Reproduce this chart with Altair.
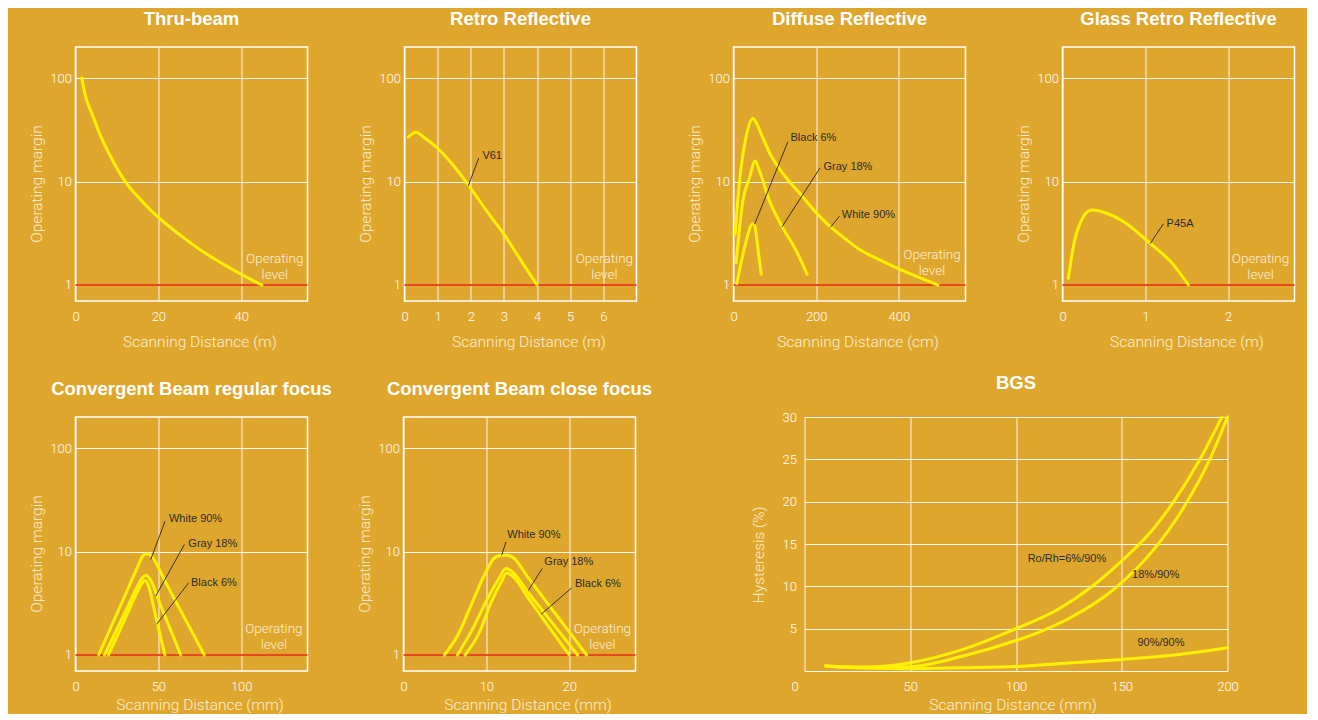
import altair as alt
import pandas as pd

# ---------------- data ----------------
THRU_X = [1.5, 2.5, 4, 6, 8, 12, 16, 20, 25, 30, 35, 40, 45]
THRU_Y = [100, 65, 45, 28, 19, 10, 6.5, 4.5, 3.1, 2.2, 1.65, 1.27, 1.0]

RETRO_X = [0.12, 0.35, 0.6, 1.0, 1.5, 2.0, 2.5, 3.0, 3.5, 4.0]
RETRO_Y = [27, 30, 26.5, 21, 14, 8.6, 5.1, 3.1, 1.75, 1.0]

DIF_WHITE_X = [4, 14.5, 30, 47, 55, 70, 90, 110, 135, 165, 200, 236, 270, 305, 350, 400, 450, 494]
DIF_WHITE_Y = [3.1, 10, 26.5, 40.8, 37, 27, 18, 13.5, 10, 7.3, 5.0, 3.6, 2.8, 2.2, 1.78, 1.43, 1.18, 1.0]
DIF_GRAY_X = [6.4, 22.6, 38.7, 52.4, 63, 87, 117, 152, 178]
DIF_GRAY_Y = [1.64, 6.5, 10.9, 15.8, 12.6, 6.5, 3.7, 2.13, 1.27]
DIF_BLACK_X = [8, 26.6, 46.8, 51, 58.8, 67]
DIF_BLACK_Y = [1.03, 2.29, 3.91, 3.8, 2.29, 1.27]

GLASS_X = [0.07, 0.145, 0.245, 0.3, 0.365, 0.42, 0.5, 0.73, 1.05, 1.33, 1.52]
GLASS_Y = [1.16, 2.66, 4.47, 5.1, 5.3, 5.25, 5.05, 4.14, 2.56, 1.6, 1.0]

CR_WHITE_X = [14, 22, 30, 37, 41, 43.5, 46, 54, 62, 70, 77.7]
CR_WHITE_Y = [1.0, 1.95, 3.8, 6.8, 9.2, 9.5, 9.0, 5.17, 2.97, 1.71, 1.0]
CR_GRAY_X = [17.5, 24, 31, 37, 40.5, 42.5, 45, 51, 57, 63.5]
CR_GRAY_Y = [1.0, 1.65, 2.83, 4.5, 5.6, 5.9, 5.4, 3.12, 1.81, 1.0]
CR_BLACK_X = [19.9, 26, 32, 37, 40.3, 42, 44, 48, 51, 54]
CR_BLACK_Y = [1.0, 1.63, 2.65, 3.98, 5.0, 5.26, 4.7, 2.53, 1.58, 1.0]

CC_WHITE_X = [4.94, 6.6, 8.2, 9.8, 11.0, 11.8, 12.5, 13.2, 15, 17, 19, 21, 22.1]
CC_WHITE_Y = [1.0, 1.58, 3.08, 6.0, 8.7, 9.2, 9.2, 8.8, 5.66, 3.47, 2.13, 1.31, 1.0]
CC_GRAY_X = [6.5, 8.2, 10.2, 11.45, 12.37, 13.05, 15, 17, 19, 21]
CC_GRAY_Y = [1.0, 1.7, 3.57, 5.37, 6.86, 6.46, 4.08, 2.55, 1.6, 1.0]
CC_BLACK_X = [7.43, 9.04, 10.64, 11.85, 12.45, 13.05, 15, 17, 19, 20]
CC_BLACK_Y = [1.0, 1.58, 3.32, 5.17, 6.2, 5.9, 3.6, 2.15, 1.29, 1.0]

BGS_A_X = [10, 20, 30, 50, 75, 100, 120, 135, 150, 165, 174, 187, 197.3]
BGS_A_Y = [0.6, 0.5, 0.47, 0.98, 2.56, 5.0, 7.3, 9.8, 13.0, 16.8, 19.8, 25, 30]
BGS_B_X = [10, 20, 30, 50, 75, 100, 111, 125, 146, 165, 180, 192, 200]
BGS_B_Y = [0.62, 0.42, 0.38, 0.5, 1.77, 3.6, 4.6, 6.2, 9.6, 14.3, 19.6, 25.2, 30]
BGS_C_X = [10, 20, 30, 50, 75, 100, 125, 150, 175, 200]
BGS_C_Y = [0.6, 0.45, 0.35, 0.28, 0.38, 0.52, 0.95, 1.37, 1.9, 2.75]

# annotation labels (data coordinates)
RETRO_NOTE = (["V61"], [2.35], [17.5])
RETRO_LEAD = ([2.24], [16.9], [1.92], [9.0])
DIF_NOTE = (["Black 6%", "Gray 18%", "White 90%"], [137.8, 217.6, 262], [26.4, 13.8, 4.8])
DIF_LEAD = ([131.4, 209.6, 256.3], [24.2, 13.6, 4.63], [50.8, 116.9, 233.8], [3.86, 3.63, 3.6])
GLASS_NOTE = (["P45A"], [1.256], [3.9])
GLASS_LEAD = ([1.217], [3.9], [1.057], [2.5])
CR_NOTE = (["White 90%", "Gray 18%", "Black 6%"], [56.4, 68.1, 69.7], [20.7, 11.9, 4.99])
CR_LEAD = ([54.0, 65.7, 68.3], [19.6, 11.7, 4.99], [45.4, 48.4, 49.0], [8.37, 3.71, 1.98])
CC_NOTE = (["White 90%", "Gray 18%", "Black 6%"], [12.53, 17.0, 20.7], [14.6, 7.9, 4.88])
CC_LEAD = ([12.37, 16.75, 20.3], [12.4, 6.86, 4.46], [11.85, 15.06, 16.6], [9.2, 4.2, 2.47])
BGS_NOTE = (["Ro/Rh=6%/90%", "18%/90%", "90%/90%"], [105.5, 154.9, 157.4], [13.25, 11.3, 3.26])

OP_TEXT = ["Operating", "level"]
OP_Y = [1.77, 1.25]
OP_Y_DIF = [1.95, 1.38]

# ---------------- style ----------------
BG = "#DFA62E"
YEL = "#FFF200"
RED = "#E8481E"
FONT_B = "Liberation Sans"
FONT_L = "Roboto"
CREAM = "#FBF0D6"
W = 232
H = 254


def curves_df(series):
    rows = []
    for name, xs, ys in series:
        for a, b in zip(xs, ys):
            rows.append({"x": a, "y": b, "s": name})
    return pd.DataFrame(rows)


def note_layers(X, Y, note, lead):
    out = []
    if lead is not None:
        ldf = pd.DataFrame({"x": lead[0], "y": lead[1], "x2": lead[2], "y2": lead[3]})
        out.append(alt.Chart(ldf).mark_rule(color="#222222", strokeWidth=0.9).encode(
            x=X, y=Y, x2="x2:Q", y2="y2:Q"))
    if note is not None:
        ndf = pd.DataFrame({"t": note[0], "x": note[1], "y": note[2]})
        out.append(alt.Chart(ndf).mark_text(align="left", baseline="middle", font=FONT_B,
                                            fontSize=11, color="#2A2A2A").encode(
            x=X, y=Y, text="t:N"))
    return out


def log_panel(title, xdom, xvals, xtitle, series, note=None, lead=None, opx=None,
              opy=OP_Y, xty=40):
    X = alt.X("x:Q", scale=alt.Scale(domain=xdom, nice=False, zero=False),
              axis=alt.Axis(values=xvals, title=xtitle, titleX=124, titleY=xty,
                            titleBaseline="middle", labelPadding=9, grid=True))
    Y = alt.Y("y:Q", scale=alt.Scale(type="log", domain=[0.7, 200], nice=False),
              axis=alt.Axis(values=[1, 10, 100], format="d", title="Operating margin",
                            titleX=-39, titleY=136.5, titleBaseline="middle",
                            labelPadding=4, grid=True))
    layers = []
    layers.append(alt.Chart(pd.DataFrame({"y": [1]})).mark_rule(color=RED, strokeWidth=2).encode(y=Y))
    layers.append(alt.Chart(curves_df(series)).mark_line(
        color=YEL, strokeWidth=3, interpolate="monotone", strokeCap="round").encode(
        x=X, y=Y, detail="s:N"))
    layers += note_layers(X, Y, note, lead)
    odf = pd.DataFrame({"t": OP_TEXT, "x": [opx, opx], "y": opy})
    layers.append(alt.Chart(odf).mark_text(align="center", baseline="middle", font=FONT_L,
                                           fontWeight=300, fontSize=13.5, color=CREAM).encode(
        x=X, y=Y, text="t:N"))
    return alt.layer(*layers).properties(width=W, height=H, title=alt.Title(title))


p1 = log_panel("Thru-beam", [0, 56], [0, 20, 40], "Scanning Distance (m)",
               [("a", THRU_X, THRU_Y)], opx=48.1)
p2 = log_panel("Retro Reflective", [0, 7], [0, 1, 2, 3, 4, 5, 6], "Scanning Distance (m)",
               [("a", RETRO_X, RETRO_Y)], RETRO_NOTE, RETRO_LEAD, opx=6.03)
p3 = log_panel("Diffuse Reflective", [0, 561], [0, 200, 400], "Scanning Distance (cm)",
               [("w", DIF_WHITE_X, DIF_WHITE_Y), ("g", DIF_GRAY_X, DIF_GRAY_Y),
                ("b", DIF_BLACK_X, DIF_BLACK_Y)], DIF_NOTE, DIF_LEAD, opx=480, opy=OP_Y_DIF)
p4 = log_panel("Glass Retro Reflective", [0, 2.8], [0, 1, 2], "Scanning Distance (m)",
               [("a", GLASS_X, GLASS_Y)], GLASS_NOTE, GLASS_LEAD, opx=2.39)
p5 = log_panel("Convergent Beam regular focus", [0, 140], [0, 50, 100], "Scanning Distance (mm)",
               [("w", CR_WHITE_X, CR_WHITE_Y), ("g", CR_GRAY_X, CR_GRAY_Y),
                ("b", CR_BLACK_X, CR_BLACK_Y)], CR_NOTE, CR_LEAD, opx=119.7, xty=33.5)
p6 = log_panel("Convergent Beam close focus", [0, 28], [0, 10, 20], "Scanning Distance (mm)",
               [("w", CC_WHITE_X, CC_WHITE_Y), ("g", CC_GRAY_X, CC_GRAY_Y),
                ("b", CC_BLACK_X, CC_BLACK_Y)], CC_NOTE, CC_LEAD, opx=24.0, xty=33.5)

# BGS panel (plot area offset inside its cell)
BX = alt.X("x:Q", scale=alt.Scale(domain=[0, 200], range=[73, 496], nice=False),
           axis=alt.Axis(values=[0, 50, 100, 150, 200], title="Scanning Distance (mm)",
                         titleX=281, titleY=33.5, titleBaseline="middle", labelPadding=9,
                         labelOffset=alt.condition("datum.value == 0", alt.value(-10), alt.value(0)),
                         grid=True))
BY = alt.Y("y:Q", scale=alt.Scale(domain=[0, 30], nice=False),
           axis=alt.Axis(values=[0, 5, 10, 15, 20, 25, 30],
                         labelExpr="datum.value == 0 ? '' : datum.label",
                         title="Hysteresis (%)", offset=-73, titleX=-45.7, titleY=137.3,
                         titleBaseline="middle", labelPadding=8, grid=True))
bgs_lines = alt.Chart(curves_df([("a", BGS_A_X, BGS_A_Y), ("b", BGS_B_X, BGS_B_Y),
                                 ("c", BGS_C_X, BGS_C_Y)])).mark_line(
    color=YEL, strokeWidth=3, interpolate="monotone", strokeCap="round").encode(
    x=BX, y=BY, detail="s:N")
p7 = alt.layer(bgs_lines, *note_layers(BX, BY, BGS_NOTE, None)).properties(
    width=496, height=H, title=alt.Title("BGS", dx=36.5),
    view=alt.ViewBackground(stroke="transparent"))

row1 = alt.hconcat(p1, p2, p3, p4, spacing=97, bounds="flush")
row2 = alt.hconcat(p5, p6, p7, spacing=96, bounds="flush")

chart = alt.vconcat(row1, row2, spacing=21).properties(
    background=BG,
    padding={"left": 20.5, "top": 0, "right": 10, "bottom": 0},
).configure_view(
    stroke="white", strokeWidth=1.5, fill=BG
).configure_axis(
    labelColor="white", labelFont=FONT_L, labelFontWeight=300, labelFontSize=13,
    titleColor=CREAM, titleFont=FONT_L, titleFontWeight=300, titleFontSize=15.5,
    gridColor="white", gridOpacity=0.9, gridWidth=1, ticks=False, domain=False,
    labelFlush=False
).configure_title(
    font=FONT_B, fontSize=18.5, fontWeight="bold", color="white", anchor="middle",
    frame="group", offset=19
)

chart.save("out.html", embed_options={"renderer": "svg", "actions": False})
